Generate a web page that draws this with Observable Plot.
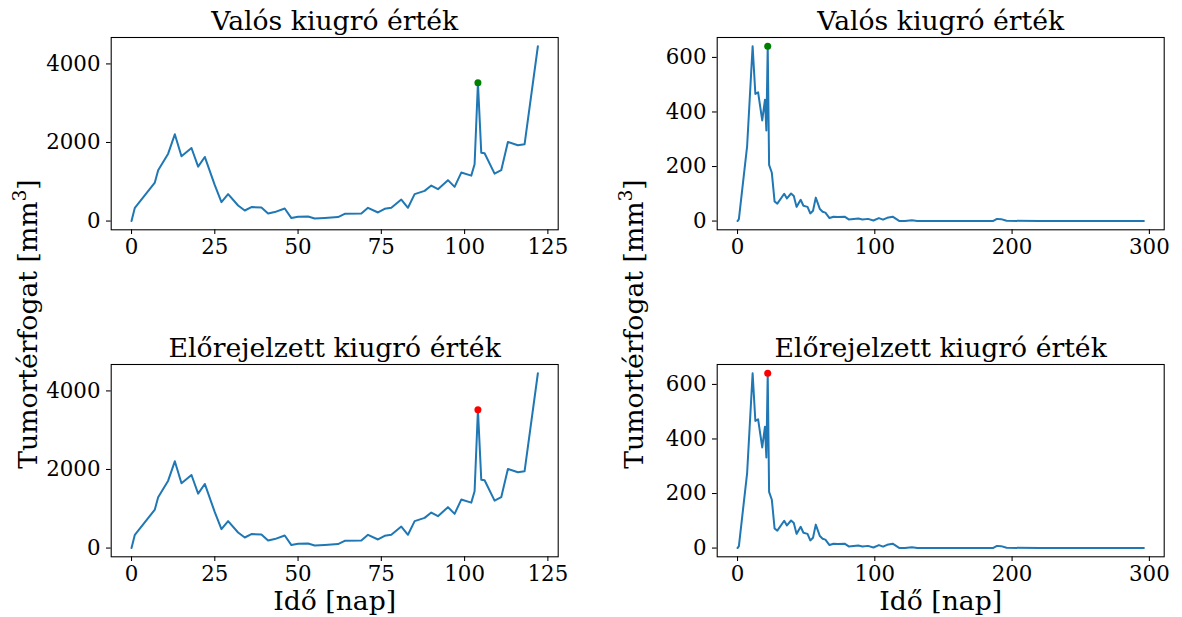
<!DOCTYPE html>
<html>
<head>
<meta charset="utf-8">
<script src="https://cdn.jsdelivr.net/npm/d3@7"></script>
<script src="https://cdn.jsdelivr.net/npm/@observablehq/plot@0.6"></script>
<style>
  html, body { margin: 0; padding: 0; background: #fff; }
  #fig { position: relative; width: 1182px; height: 617px; background: #fff; overflow: hidden; }
  #fig .cell { position: absolute; }
  #fig svg { overflow: visible; }
  #labels { position: absolute; left: 0; top: 0; pointer-events: none; }
</style>
</head>
<body>
<div id="fig"></div>
<script>
// Tumour volume series, first patient (days 0–122)
const shortDays = [0,1,7,8,11,13,15,18,20,22,25,27,29,32,34,36,39,41,43,46,48,50,53,55,58,62,64,69,71,74,76,78,81,83,85,88,90,92,95,97,99,102,103,104,105,106,109,111,113,116,118,122];
const shortVolume = [0,338,980,1294,1716,2208,1650,1860,1386,1632,914,482,685,396,269,355,345,193,228,320,76,109,117,66,80,102,185,193,338,218,312,338,548,338,685,769,904,812,1041,871,1234,1157,1447,3520,1741,1726,1208,1294,2013,1929,1954,4450];
const shortOutlierDay = 104;

// Tumour volume series, second patient (days 0–296)
const longDays = [0,1,7,11,13,15,18,20,21,22,23,25,27,29,34,36,39,41,43,46,48,51,53,55,57,60,62,64,67,70,73,78,81,88,91,95,99,103,106,109,113,118,122,127,131,150,175,186,189,192,196,220,250,280,296];
const longVolume = [0,7,275,641,466,472,369,445,332,641,206,177,72,64,100,83,101,92,52,78,56,52,28,38,86,44,34,31,11,16,15,16,6,9,6,8,2,11,5,12,16,0,0,3,0,0,0,0,8,7,1,0,0,0,0];
const longOutlierDay = 22;

const shortXTicks = [0, 25, 50, 75, 100, 125];
const shortYTicks = [0, 2000, 4000];
const longXTicks = [0, 100, 200, 300];
const longYTicks = [0, 200, 400, 600];

const titleTrue = "Valós kiugró érték";
const titlePred = "Előrejelzett kiugró érték";
const xLabel = "Idő [nap]";
const yLabel = "Tumortérfogat [mm";
const yLabelSup = "3";

const FONT = "DejaVu Serif";
const TICK_FS = 21.33;
const LABEL_FS = 26.67;

function rows(days, vols) {
  return days.map((d, i) => ({day: d, volume: vols[i]}));
}
function padded(lo, hi) {
  const m = (hi - lo) * 0.05;
  return [lo - m, hi + m];
}

function panel({days, vols, outlierDay, xTicks, yTicks, title, dotColor, withXLabel}) {
  const data = rows(days, vols);
  const outlier = data.filter(d => d.day === outlierDay);
  const height = withXLabel ? 290 : 300;
  const marks = [
    Plot.axisX({ticks: xTicks, tickSize: 4.7, tickPadding: 4.6, tickFormat: "d", fontSize: TICK_FS, label: null, strokeWidth: 1.07}),
    Plot.axisY({ticks: yTicks, tickSize: 4.7, tickPadding: 6, tickFormat: "d", fontSize: TICK_FS, label: null, strokeWidth: 1.07}),
    Plot.line(data, {x: "day", y: "volume", stroke: "#1f77b4", strokeWidth: 2}),
    Plot.dot(outlier, {x: "day", y: "volume", r: 3.5, fill: dotColor, stroke: null}),
    Plot.frame({stroke: "#000", strokeWidth: 1.07}),
    Plot.text([title], {frameAnchor: "top", dy: -7.3, lineAnchor: "bottom", fontSize: LABEL_FS, fill: "#000"})
  ];
  if (withXLabel) {
    marks.push(Plot.text([xLabel], {frameAnchor: "bottom", dy: 53, lineAnchor: "bottom", fontSize: LABEL_FS, fill: "#000"}));
  }
  return Plot.plot({
    width: 570,
    height,
    marginLeft: 110.7,
    marginRight: 12.3,
    marginTop: 37,
    marginBottom: height - 229.3,
    style: {fontFamily: FONT, fontSize: TICK_FS + "px", color: "#000", background: "transparent", overflow: "visible"},
    x: {domain: padded(d3.min(days), d3.max(days)), label: null},
    y: {domain: padded(d3.min(vols), d3.max(vols)), label: null},
    marks
  });
}

const fig = document.getElementById("fig");
const cells = [
  {left: 0, top: 0, opts: {days: shortDays, vols: shortVolume, outlierDay: shortOutlierDay, xTicks: shortXTicks, yTicks: shortYTicks, title: titleTrue, dotColor: "green", withXLabel: false}},
  {left: 606, top: 0, opts: {days: longDays, vols: longVolume, outlierDay: longOutlierDay, xTicks: longXTicks, yTicks: longYTicks, title: titleTrue, dotColor: "green", withXLabel: false}},
  {left: 0, top: 327.3, opts: {days: shortDays, vols: shortVolume, outlierDay: shortOutlierDay, xTicks: shortXTicks, yTicks: shortYTicks, title: titlePred, dotColor: "red", withXLabel: true}},
  {left: 606, top: 327.3, opts: {days: longDays, vols: longVolume, outlierDay: longOutlierDay, xTicks: longXTicks, yTicks: longYTicks, title: titlePred, dotColor: "red", withXLabel: true}}
];
for (const c of cells) {
  const div = document.createElement("div");
  div.className = "cell";
  div.style.left = c.left + "px";
  div.style.top = c.top + "px";
  div.appendChild(panel(c.opts));
  fig.appendChild(div);
}

// Rotated y-axis titles, one per column
const overlay = d3.select(fig).append("svg")
  .attr("id", "labels")
  .attr("width", 1182)
  .attr("height", 617);
for (const x of [36.7, 642.7]) {
  const t = overlay.append("text")
    .attr("transform", `translate(${x},324) rotate(-90)`)
    .attr("text-anchor", "middle")
    .attr("font-family", FONT)
    .attr("font-size", LABEL_FS)
    .attr("fill", "#000");
  t.append("tspan").text(yLabel);
  t.append("tspan").attr("dy", -11).attr("font-size", LABEL_FS * 0.7).text(yLabelSup);
  t.append("tspan").attr("dy", 11).text("]");
}
</script>
</body>
</html>
